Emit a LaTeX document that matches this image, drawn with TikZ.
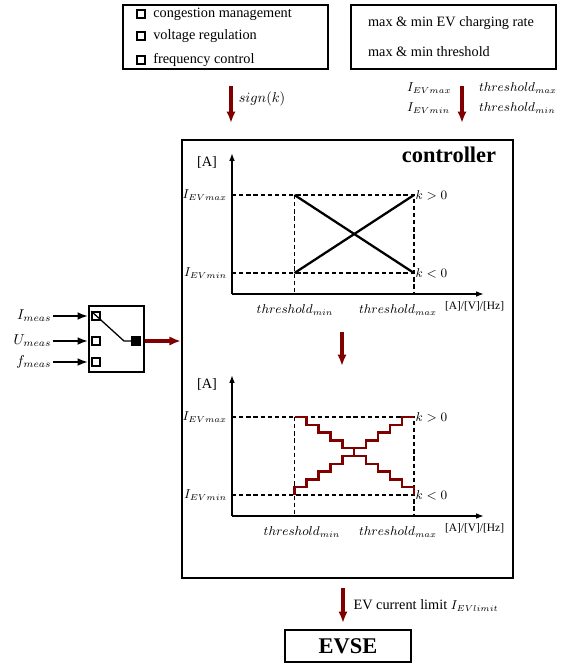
\documentclass[tikz,border=0pt]{standalone}
\usepackage{fontspec}
\setmainfont{Liberation Serif}
\usetikzlibrary{arrows.meta,positioning}
\definecolor{darkred}{RGB}{128,0,0}
\tikzset{
  box/.style={draw, line width=1.2pt, inner sep=0pt, minimum width=143.5pt, minimum height=44.8pt},
  chk/.style={draw, line width=1.2pt, minimum size=5.5pt, inner sep=0pt},
  redarrow/.style={darkred, line width=2.2pt, -{Latex[length=8pt,width=6.5pt]}},
  blkarrow/.style={black, line width=2pt, -{Latex[length=7.5pt,width=5.5pt]}},
  dashline/.style={line width=1pt, dash pattern=on 3pt off 2pt},
  axis/.style={line width=1.1pt, -{Latex[length=5.5pt,width=4pt]}},
  stair/.style={darkred, line width=1.7pt},
  bigbf/.style={font=\fontsize{15.7}{18}\selectfont\bfseries},
  mlbl/.style={font=\small},
}
\begin{document}
\begin{tikzpicture}[x=0.7pt,y=-0.7pt]
\useasboundingbox (0,0) rectangle (564,666);
\node[box] (obj) at (225.5,37) {};
\node[box] (lim) at (453.5,37) {};
\foreach \i/\y/\txt in {1/14/congestion management, 2/36/voltage regulation, 3/60/frequency control}{
  \node[chk, minimum size=6pt] (c\i) at (141,\y) {};
  \node[right=1.5pt of c\i] (t\i) {\txt};
}
\node[anchor=west] (r1) at (363,23) {max \& min EV charging rate};
\node[anchor=west] (r2) at (363,52) {max \& min threshold};
\coordinate (s1) at (231,86);
\coordinate (s2) at (231,123);
\draw[redarrow] (s1) -- node[pos=0.35, right=1pt, black] (sk) {$sign(k)$} (s2);
\coordinate (m1) at (462,86);
\coordinate (m2) at (462,123);
\draw[redarrow] (m1) -- (m2);
\node[anchor=west, mlbl] (iemax) at (402,88) {$I_{EVmax}$};
\node[anchor=west, mlbl] (iemin) at (402,108) {$I_{EVmin}$};
\node[anchor=west, mlbl] (thmax) at (474,88) {$threshold_{max}$};
\node[anchor=west, mlbl] (thmin) at (474,108) {$threshold_{min}$};
\node[draw, line width=1.6pt, minimum width=231.7pt, minimum height=306.6pt] (ctrl) at (347.5,359) {};
\node[bigbf] (ctit) at (449,155) {controller};
\foreach \p/\oy/\tx in {1/294/63, 2/516/70}{
  \begin{scope}[shift={(232,\oy)}]
    \coordinate (o\p) at (0,0);
    \coordinate (a\p) at (62.5,-99);
    \coordinate (b\p) at (182,-99);
    \coordinate (c\p) at (62.5,-21);
    \coordinate (d\p) at (182,-21);
    \draw[axis] (o\p) -- (0,-141);
    \draw[axis] (o\p) -- (252,0);
    \draw[dashline] (0,-99) -- (b\p) -- (182,0);
    \draw[dashline] (0,-21) -- (d\p);
    \draw[dashline] (a\p) -- (62.5,0);
    \node (unit\p) at (-25,-132) {[A]};
    \node[anchor=east, mlbl] (ymax\p) at (0,-99) {$I_{EVmax}$};
    \node[anchor=east, mlbl] (ymin\p) at (0,-21) {$I_{EVmin}$};
    \node[anchor=west, inner sep=1pt, mlbl] (kp\p) at (b\p) {$k>0$};
    \node[anchor=west, inner sep=1pt, mlbl] (kn\p) at (d\p) {$k<0$};
    \node[mlbl] (xmin\p) at (\tx,16) {$threshold_{min}$};
    \node[mlbl] (xmax\p) at (166,16) {$threshold_{max}$};
    \node[anchor=west, font=\footnotesize] (xu\p) at (208,12) {[A]/[V]/[Hz]};
  \end{scope}
}
\draw[line width=1.6pt] (a1) -- (d1) (c1) -- (b1);
\draw[stair] (c2) \foreach \i in {1,...,10}{ -- ++(0,-7.8) -- ++(11.95,0)};
\draw[stair] (a2) \foreach \i in {1,...,10}{ -- ++(11.95,0) -- ++(0,7.8)};
\coordinate (p1) at (342,332);
\coordinate (p2) at (342,366);
\draw[redarrow] (p1) -- (p2);
\node[draw, line width=1.1pt, minimum width=38.5pt, minimum height=46.2pt] (sel) at (116.5,339) {};
\foreach \i/\y/\txt in {1/316/I, 2/341/U, 3/362/f}{
  \node[chk] (in\i) at (96,\y) {};
  \coordinate (src\i) at (53,\y);
  \draw[blkarrow] (src\i) -- (sel.west |- in\i);
  \node[anchor=east, inner sep=1pt] (lab\i) at (src\i) {$\txt_{meas}$};
}
\node[chk, fill, minimum size=5.8pt] (out) at (136,341) {};
\coordinate (sw) at (124,341);
\draw[line width=0.9pt] (in1.north west) -- (sw) -- (out);
\draw[redarrow] (sel.east |- out) -- (ctrl.west |- out);
\node[draw, line width=0.9pt, minimum width=88.2pt, minimum height=22.4pt, bigbf] (evse) at (348,646) {EVSE};
\coordinate (e1) at (343,588);
\coordinate (e2) at (343,623);
\draw[redarrow] (e1) -- node[right=3pt, black] (limlbl) {EV current limit {\small$I_{EVlimit}$}} (e2);
\end{tikzpicture}
\end{document}
